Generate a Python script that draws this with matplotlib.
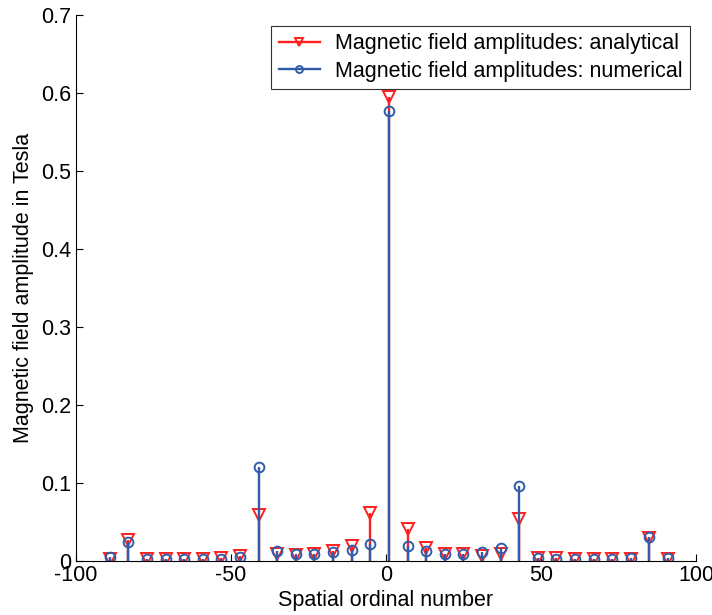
import matplotlib
matplotlib.use("Agg")
import matplotlib.pyplot as plt
from matplotlib.lines import Line2D
from matplotlib.legend_handler import HandlerLine2D

plt.rcParams['font.family'] = ['Liberation Sans', 'DejaVu Sans']

# Spatial ordinal numbers (harmonic orders)
orders = [-89, -83, -77, -71, -65, -59, -53, -47, -41, -35, -29, -23, -17, -11, -5,
          1, 7, 13, 19, 25, 31, 37, 43, 49, 55, 61, 67, 73, 79, 85, 91]

# Amplitudes in Tesla
analytical = [0.002, 0.027, 0.002, 0.002, 0.002, 0.002, 0.004, 0.006, 0.058, 0.008, 0.007,
              0.008, 0.012, 0.019, 0.061,
              0.594, 0.040, 0.016, 0.008, 0.008, 0.006, 0.009, 0.054, 0.004, 0.004,
              0.002, 0.002, 0.002, 0.002, 0.029, 0.002]
numerical = [0.005, 0.024, 0.002, 0.002, 0.002, 0.002, 0.002, 0.005, 0.120, 0.013, 0.009,
             0.008, 0.011, 0.014, 0.022,
             0.577, 0.019, 0.013, 0.009, 0.009, 0.011, 0.016, 0.096, 0.003, 0.002,
             0.002, 0.002, 0.002, 0.003, 0.030, 0.004]

xticks = [-100, -50, 0, 50, 100]
xticklabels = ['-100', '-50', '0', '50', '100']
yticks = [0, 0.1, 0.2, 0.3, 0.4, 0.5, 0.6, 0.7]
yticklabels = ['0', '0.1', '0.2', '0.3', '0.4', '0.5', '0.6', '0.7']

RED = '#ff1f1f'
BLUE = '#2f5daa'
FS = 15.5

fig = plt.figure(figsize=(7.12, 6.15), dpi=100)
ax = fig.add_axes([0.1063, 0.0883, 0.8712, 0.8878])


def draw_stem(x, y, color, marker, size):
    ml, sl, bl = ax.stem(x, y, basefmt=' ')
    sl.set_color(color)
    sl.set_linewidth(1.7)
    ml.set_marker(marker)
    ml.set_markerfacecolor('none')
    ml.set_markeredgecolor(color)
    ml.set_markeredgewidth(1.4)
    ml.set_markersize(size)
    return ml


draw_stem(orders, analytical, RED, 'v', 8)
draw_stem(orders, numerical, BLUE, 'o', 7)

ax.set_xlim(-100, 100)
ax.set_ylim(0, 0.7)
ax.set_xticks(xticks)
ax.set_xticklabels(xticklabels)
ax.set_yticks(yticks)
ax.set_yticklabels(yticklabels)
ax.tick_params(direction='in', length=5, width=0.8, labelsize=FS, colors='black', pad=3)
for side in ('top', 'right'):
    ax.spines[side].set_visible(False)
for side in ('left', 'bottom'):
    ax.spines[side].set_linewidth(0.8)

ax.set_xlabel('Spatial ordinal number', fontsize=FS, labelpad=3)
ax.set_ylabel('Magnetic field amplitude in Tesla', fontsize=FS, labelpad=5)


class EndMarkerHandler(HandlerLine2D):
    # put the legend marker at the right end of the sample line
    def get_xdata(self, legend, xdescent, ydescent, width, height, fontsize):
        xdata, _ = super().get_xdata(legend, xdescent, ydescent, width, height, fontsize)
        return xdata, [xdata[-1]]


h_an = Line2D([], [], color=RED, lw=1.7, marker='v', markerfacecolor='none',
              markeredgecolor=RED, markeredgewidth=1.4, markersize=6)
h_nu = Line2D([], [], color=BLUE, lw=1.7, marker='o', markerfacecolor='none',
              markeredgecolor=BLUE, markeredgewidth=1.4, markersize=5)
leg = fig.legend([h_an, h_nu],
                 ['Magnetic field amplitudes: analytical',
                  'Magnetic field amplitudes: numerical'],
                 loc='upper right', bbox_to_anchor=(690 / 712, 1 - 25.7 / 615),
                 fontsize=FS, handlelength=1.9, handletextpad=0.7,
                 borderpad=0.35, labelspacing=0.3, borderaxespad=0,
                 fancybox=False, framealpha=1, numpoints=1,
                 handler_map={Line2D: EndMarkerHandler()})
leg.get_frame().set_edgecolor('#333333')
leg.get_frame().set_linewidth(0.8)

fig.savefig('out.png', dpi=100)
